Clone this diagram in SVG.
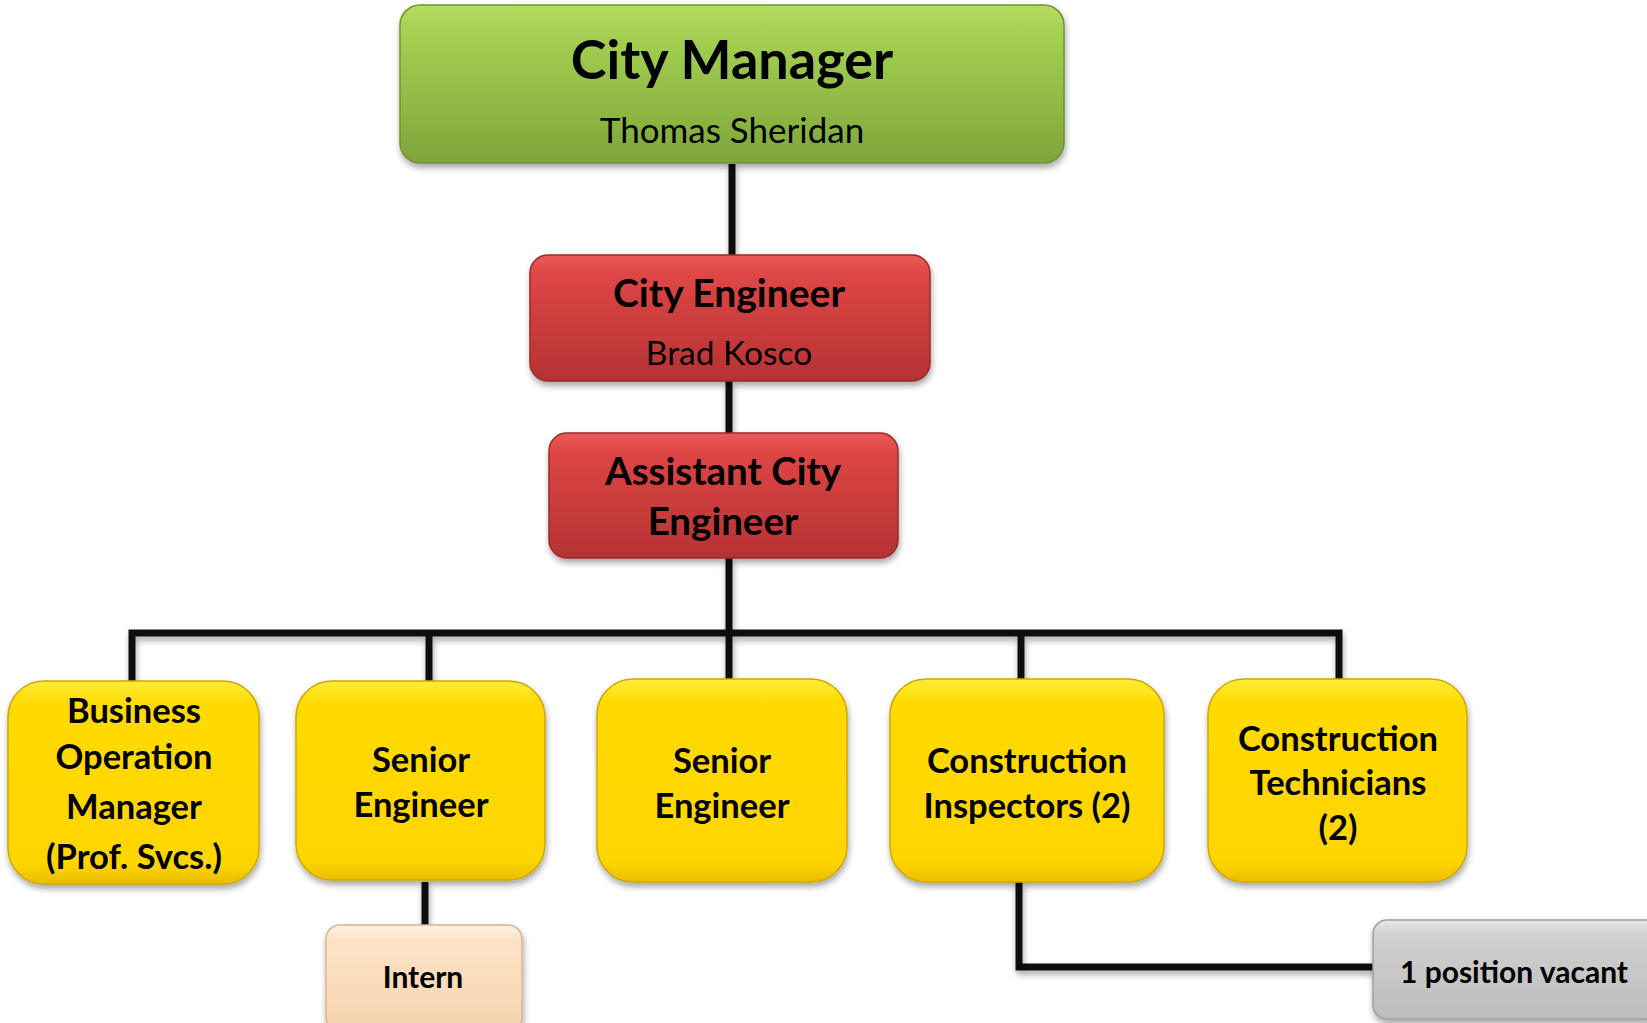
<svg xmlns="http://www.w3.org/2000/svg" width="1647" height="1023" viewBox="0 0 1647 1023">
<defs>
<style>
.t{font-family:Lato,"Liberation Sans",sans-serif;fill:#000;text-anchor:middle}
.b{font-weight:bold}
.con{fill:none;stroke:#111;stroke-width:7;stroke-linejoin:miter}
.y{font-size:34.5px}
</style>
<filter id="sh" filterUnits="userSpaceOnUse" x="0" y="0" width="1647" height="1023">
<feDropShadow dx="1" dy="4" stdDeviation="3" flood-color="#000" flood-opacity="0.35"/>
</filter>
<linearGradient id="gGreen" x1="0" y1="0" x2="0" y2="1">
<stop offset="0" stop-color="#b4dd62"/>
<stop offset="0.15" stop-color="#a6d253"/>
<stop offset="1" stop-color="#7ea63a"/>
</linearGradient>
<linearGradient id="gRed" x1="0" y1="0" x2="0" y2="1">
<stop offset="0" stop-color="#ec5a58"/>
<stop offset="0.15" stop-color="#df4646"/>
<stop offset="1" stop-color="#b53232"/>
</linearGradient>
<linearGradient id="gYel" x1="0" y1="0" x2="0" y2="1">
<stop offset="0" stop-color="#ffec3a"/>
<stop offset="0.12" stop-color="#ffda00"/>
<stop offset="0.9" stop-color="#ffd500"/>
<stop offset="1" stop-color="#e9bd00"/>
</linearGradient>
<linearGradient id="gPeach" x1="0" y1="0" x2="0" y2="1">
<stop offset="0" stop-color="#fff2e4"/>
<stop offset="0.15" stop-color="#fde3c6"/>
<stop offset="1" stop-color="#f6d3ae"/>
</linearGradient>
<linearGradient id="gGray" x1="0" y1="0" x2="0" y2="1">
<stop offset="0" stop-color="#e8e8e8"/>
<stop offset="0.15" stop-color="#d0d0d0"/>
<stop offset="1" stop-color="#bdbdbd"/>
</linearGradient>
</defs>
<rect width="1647" height="1023" fill="#fff"/>

<g id="connectors" filter="url(#sh)">
<path class="con" d="M732 164 V255"/>
<path class="con" d="M729 381 V434"/>
<path class="con" d="M729 558 V633"/>
<path class="con" d="M132 683 V633 H1339 V683"/>
<path class="con" d="M429 633 V683"/>
<path class="con" d="M729 633 V681"/>
<path class="con" d="M1021 633 V681"/>
<path class="con" d="M425 882 V926"/>
<path class="con" d="M1019 882 V967 H1375"/>
</g>

<g id="city-manager">
<rect x="400" y="5" width="664" height="158" rx="20" fill="url(#gGreen)" stroke="#6e9432" stroke-width="1.5" filter="url(#sh)"/>
<text class="t b" x="732" y="79" font-size="54">City Manager</text>
<text class="t" x="732" y="143" font-size="35">Thomas Sheridan</text>
</g>

<g id="city-engineer">
<rect x="530" y="255" width="400" height="126" rx="18" fill="url(#gRed)" stroke="#9c2a2a" stroke-width="1.5" filter="url(#sh)"/>
<text class="t b" x="729" y="307" font-size="39">City Engineer</text>
<text class="t" x="729" y="365" font-size="33.5">Brad Kosco</text>
</g>

<g id="assistant-city-engineer">
<rect x="549" y="433" width="349" height="125" rx="18" fill="url(#gRed)" stroke="#9c2a2a" stroke-width="1.5" filter="url(#sh)"/>
<text class="t b" x="723" y="485" font-size="38.5">Assistant City</text>
<text class="t b" x="723" y="535" font-size="38.5">Engineer</text>
</g>

<g id="business-operation-manager">
<rect x="8" y="681" width="251" height="203" rx="36" fill="url(#gYel)" stroke="#cfa600" stroke-width="1.5" filter="url(#sh)"/>
<text class="t b y" x="134" y="723">Business</text>
<text class="t b y" x="134" y="769">Operation</text>
<text class="t b y" x="134" y="819">Manager</text>
<text class="t b y" x="134" y="869">(Prof. Svcs.)</text>
</g>

<g id="senior-engineer-1">
<rect x="296" y="681" width="249" height="199" rx="36" fill="url(#gYel)" stroke="#cfa600" stroke-width="1.5" filter="url(#sh)"/>
<text class="t b y" x="421" y="772">Senior</text>
<text class="t b y" x="421" y="817">Engineer</text>
</g>

<g id="senior-engineer-2">
<rect x="597" y="679" width="250" height="203" rx="36" fill="url(#gYel)" stroke="#cfa600" stroke-width="1.5" filter="url(#sh)"/>
<text class="t b y" x="722" y="773">Senior</text>
<text class="t b y" x="722" y="818">Engineer</text>
</g>

<g id="construction-inspectors">
<rect x="890" y="679" width="274" height="203" rx="36" fill="url(#gYel)" stroke="#cfa600" stroke-width="1.5" filter="url(#sh)"/>
<text class="t b y" x="1027" y="773">Construction</text>
<text class="t b y" x="1027" y="818">Inspectors (2)</text>
</g>

<g id="construction-technicians">
<rect x="1208" y="679" width="259" height="203" rx="36" fill="url(#gYel)" stroke="#cfa600" stroke-width="1.5" filter="url(#sh)"/>
<text class="t b y" x="1338" y="751">Construction</text>
<text class="t b y" x="1338" y="795">Technicians</text>
<text class="t b y" x="1338" y="840">(2)</text>
</g>

<g id="intern">
<rect x="326" y="925" width="196" height="106" rx="14" fill="url(#gPeach)" stroke="#d9b690" stroke-width="1.5" filter="url(#sh)"/>
<text class="t b" x="423" y="988" font-size="30">Intern</text>
</g>

<g id="vacant">
<rect x="1373" y="920" width="290" height="99" rx="14" fill="url(#gGray)" stroke="#a0a0a0" stroke-width="1.5" filter="url(#sh)"/>
<text class="t b" x="1514" y="983" font-size="30">1 position vacant</text>
</g>
</svg>
